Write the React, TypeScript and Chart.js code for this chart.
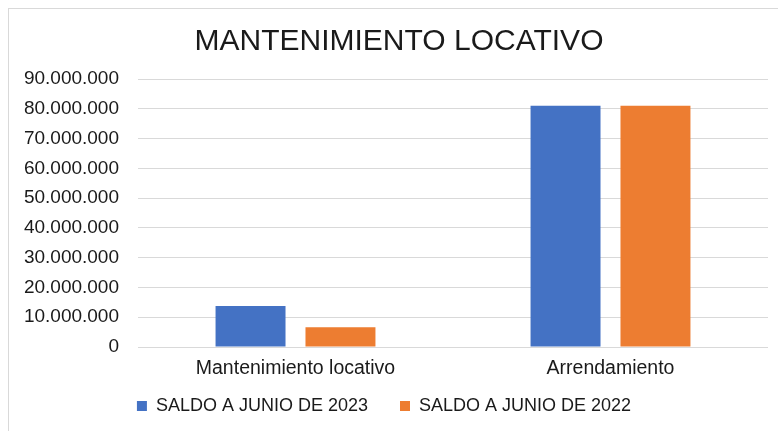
import React, { useEffect, useRef } from "react";
import { Chart, registerables } from "chart.js";

Chart.register(...registerables);

const TITLE = "MANTENIMIENTO LOCATIVO";
const categories = ["Mantenimiento locativo", "Arrendamiento"];
const seriesNames = ["SALDO A JUNIO DE 2023", "SALDO A JUNIO DE 2022"];
const saldo2023 = [13800000, 81000000];
const saldo2022 = [6600000, 81000000];
const yMin = 0;
const yMax = 90000000;
const yStep = 10000000;

const FONT = "'Liberation Sans', Arial, sans-serif";

// nudges the title to the right and lets the category labels overflow
// their (deliberately short) axis box without being clipped
const layoutTweaks = {
  id: "layoutTweaks",
  afterLayout(chart: any) {
    if (chart.titleBlock) chart.titleBlock.left += 30;
    const x = chart.scales.x;
    if (x) x.bottom = x.top + 40;
  },
};

export default function App() {
  const ref = useRef<HTMLCanvasElement | null>(null);

  useEffect(() => {
    if (!ref.current) return;
    const chart = new Chart(ref.current, {
      type: "bar",
      data: {
        labels: categories,
        datasets: [
          {
            label: seriesNames[0],
            data: saldo2023,
            backgroundColor: "#4472C4",
            categoryPercentage: 0.571,
            barPercentage: 0.778,
          },
          {
            label: seriesNames[1],
            data: saldo2022,
            backgroundColor: "#ED7D31",
            categoryPercentage: 0.571,
            barPercentage: 0.778,
          },
        ],
      },
      plugins: [layoutTweaks],
      options: {
        animation: false,
        responsive: false,
        maintainAspectRatio: false,
        layout: { padding: { left: 0, right: 10, top: 0, bottom: 6 } },
        plugins: {
          title: {
            display: true,
            text: TITLE,
            color: "#1a1a1a",
            font: { family: FONT, size: 30, weight: "normal" },
            padding: { top: 24, bottom: 19 },
          },
          legend: {
            display: true,
            position: "bottom",
            labels: {
              boxWidth: 10,
              boxHeight: 10,
              padding: 32,
              color: "#1a1a1a",
              font: { family: FONT, size: 18 },
            },
          },
          tooltip: { enabled: false },
        },
        scales: {
          x: {
            grid: { display: false, drawTicks: false },
            border: { display: false },
            afterFit: (scale: any) => {
              scale.height = 18;
            },
            ticks: {
              color: "#1a1a1a",
              padding: 10,
              font: { family: FONT, size: 19.5 },
            },
          },
          y: {
            min: yMin,
            max: yMax,
            grid: { color: "#d9d9d9", lineWidth: 1, drawTicks: false },
            border: { display: false },
            afterFit: (scale: any) => {
              scale.width = 138;
            },
            ticks: {
              stepSize: yStep,
              color: "#1a1a1a",
              padding: 19,
              font: { family: FONT, size: 19 },
              callback: (v: any) => Number(v).toLocaleString("de-DE"),
            },
          },
        },
      },
    });
    return () => chart.destroy();
  }, []);

  return (
    <div
      style={{
        position: "fixed",
        left: 0,
        top: 0,
        width: 778,
        height: 431,
        overflow: "hidden",
        background: "#fff",
      }}
    >
      <div
        style={{
          position: "absolute",
          left: 8,
          top: 8,
          width: 800,
          height: 460,
          border: "1.5px solid #d9d9d9",
          boxSizing: "border-box",
        }}
      />
      <canvas
        ref={ref}
        width={778}
        height={431}
        style={{ position: "absolute", left: 0, top: 0, width: 778, height: 431 }}
      />
    </div>
  );
}
